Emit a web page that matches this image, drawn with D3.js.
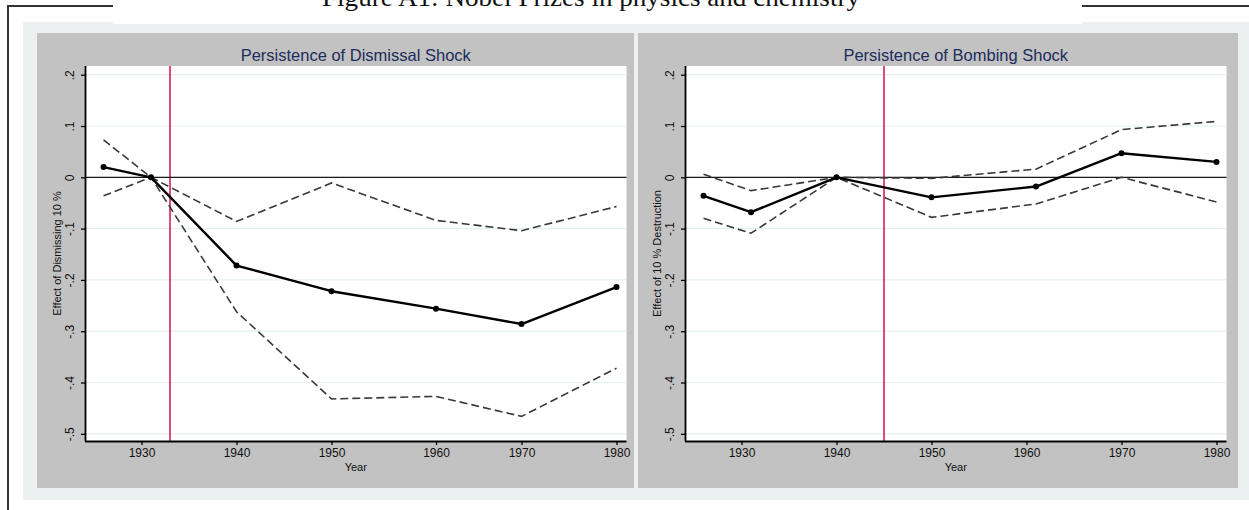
<!DOCTYPE html>
<html>
<head>
<meta charset="utf-8">
<script src="https://cdn.jsdelivr.net/npm/d3@7"></script>
<style>
  html, body { margin: 0; padding: 0; background: #ffffff; }
  svg { display: block; }
  text { font-family: "Liberation Sans", Arial, sans-serif; }
</style>
</head>
<body>
<svg id="chart" width="1249" height="510"></svg>
<script>
// Event-study coefficients by census year
const years = [1926, 1931, 1940, 1950, 1961, 1970, 1980];

const dismissalEstimate = [0.020, 0.000, -0.172, -0.222, -0.256, -0.286, -0.214];
const dismissalUpper    = [0.073, 0.000, -0.086, -0.011, -0.084, -0.104, -0.057];
const dismissalLower    = [-0.036, 0.000, -0.262, -0.432, -0.427, -0.466, -0.372];

const bombingEstimate = [-0.036, -0.068, 0.000, -0.039, -0.018, 0.047, 0.030];
const bombingUpper    = [0.006, -0.026, 0.000, -0.002, 0.016, 0.093, 0.109];
const bombingLower    = [-0.080, -0.109, 0.000, -0.078, -0.052, 0.000, -0.048];

// Axis ticks
const yTickValues = [0.2, 0.1, 0, -0.1, -0.2, -0.3, -0.4, -0.5];
const yTickLabels = [".2", ".1", "0", "-.1", "-.2", "-.3", "-.4", "-.5"];
const dismissalXTicks = [1930, 1940, 1950, 1961, 1970, 1980];
const bombingXTicks   = [1930, 1940, 1950, 1960, 1970, 1980];
const xTickLabels = ["1930", "1940", "1950", "1960", "1970", "1980"];

const figureTitle = "Figure A1: Nobel Prizes in physics and chemistry";

const panels = [
  {
    title: "Persistence of Dismissal Shock",
    yTitle: "Effect of Dismissing 10 %",
    shockYear: 1933,
    estimate: dismissalEstimate, upper: dismissalUpper, lower: dismissalLower,
    xTicks: dismissalXTicks,
    bg: [37, 634], plot: [85, 626.5]
  },
  {
    title: "Persistence of Bombing Shock",
    yTitle: "Effect of 10 % Destruction",
    shockYear: 1945,
    estimate: bombingEstimate, upper: bombingUpper, lower: bombingLower,
    xTicks: bombingXTicks,
    bg: [638, 1238], plot: [685, 1226.5]
  }
];

const svg = d3.select("#chart");

// Outer graph region
svg.append("rect").attr("x", 23).attr("y", 22).attr("width", 1249 - 23).attr("height", 500 - 22)
  .attr("fill", "#edf0f0");

// Frame lines and title box
svg.append("rect").attr("x", 113).attr("y", 0).attr("width", 1082 - 113).attr("height", 24).attr("fill", "#ffffff");
svg.append("line").attr("x1", 7).attr("x2", 113).attr("y1", 6).attr("y2", 6).attr("stroke", "#333").attr("stroke-width", 2);
svg.append("line").attr("x1", 1082).attr("x2", 1249).attr("y1", 6).attr("y2", 6).attr("stroke", "#333").attr("stroke-width", 2);
svg.append("line").attr("x1", 8).attr("x2", 8).attr("y1", 5).attr("y2", 510).attr("stroke", "#333").attr("stroke-width", 2);

svg.append("text")
  .attr("x", 591).attr("y", 6)
  .attr("text-anchor", "middle")
  .attr("textLength", 538).attr("lengthAdjust", "spacingAndGlyphs")
  .style("font-family", "'Liberation Serif', 'DejaVu Serif', serif")
  .style("font-size", "25px")
  .attr("fill", "#111")
  .text(figureTitle);

const plotTop = 66, plotBottom = 441;
const panelTop = 33, panelBottom = 488;

panels.forEach(p => {
  const g = svg.append("g");

  // Panel background
  g.append("rect").attr("x", p.bg[0]).attr("y", panelTop)
    .attr("width", p.bg[1] - p.bg[0]).attr("height", panelBottom - panelTop)
    .attr("fill", "#c2c2c2");

  const x = d3.scaleLinear().domain([1924.05, 1981.05]).range(p.plot);
  const y = d3.scaleLinear().domain([-0.514, 0.217]).range([plotBottom, plotTop]);

  // Plot region
  g.append("rect").attr("x", p.plot[0]).attr("y", plotTop)
    .attr("width", p.plot[1] - p.plot[0]).attr("height", plotBottom - plotTop)
    .attr("fill", "#ffffff");

  // Horizontal grid
  g.selectAll("line.grid").data(yTickValues).enter().append("line")
    .attr("class", "grid")
    .attr("x1", p.plot[0]).attr("x2", p.plot[1])
    .attr("y1", d => y(d)).attr("y2", d => y(d))
    .attr("stroke", "#e6eff1").attr("stroke-width", 1.2);

  // Panel title
  g.append("text")
    .attr("x", (p.plot[0] + p.plot[1]) / 2).attr("y", 60.5)
    .attr("text-anchor", "middle")
    .style("font-size", "16.5px")
    .attr("fill", "#1c2c5c")
    .text(p.title);

  // Shock year marker
  g.append("line")
    .attr("x1", x(p.shockYear)).attr("x2", x(p.shockYear))
    .attr("y1", plotTop).attr("y2", plotBottom)
    .attr("stroke", "#d4234f").attr("stroke-width", 1.6);

  // Zero reference line
  g.append("line")
    .attr("x1", p.plot[0]).attr("x2", p.plot[1])
    .attr("y1", y(0)).attr("y2", y(0))
    .attr("stroke", "#1a1a1a").attr("stroke-width", 1.3);

  const line = d3.line().x(d => x(d[0])).y(d => y(d[1]));

  // Confidence bounds
  [p.upper, p.lower].forEach(vals => {
    g.append("path")
      .datum(years.map((yr, i) => [yr, vals[i]]))
      .attr("d", line)
      .attr("fill", "none")
      .attr("stroke", "#383838").attr("stroke-width", 1.6)
      .attr("stroke-dasharray", "8,4");
  });

  // Point estimates
  const est = years.map((yr, i) => [yr, p.estimate[i]]);
  g.append("path").datum(est).attr("d", line)
    .attr("fill", "none").attr("stroke", "#000").attr("stroke-width", 2.4)
    .attr("stroke-linejoin", "round");
  g.selectAll("circle.pt").data(est).enter().append("circle")
    .attr("class", "pt")
    .attr("cx", d => x(d[0])).attr("cy", d => y(d[1])).attr("r", 3)
    .attr("fill", "#000");

  // Y axis
  const yAxis = d3.axisLeft(y).tickValues(yTickValues)
    .tickFormat((d, i) => yTickLabels[i]).tickSize(4).tickPadding(3);
  const ya = g.append("g").attr("transform", `translate(${p.plot[0]},0)`).call(yAxis);
  ya.select(".domain").attr("d", `M0.5,${plotTop}V${plotBottom}`).attr("stroke", "#000").attr("stroke-width", 1.8);
  ya.selectAll(".tick line").attr("stroke", "#000").attr("stroke-width", 1.3);
  ya.selectAll(".tick text")
    .attr("x", null).attr("dy", null)
    .attr("text-anchor", "middle")
    .attr("transform", "translate(-11,0) rotate(-90)")
    .style("font-size", "12px").attr("fill", "#111");

  // X axis
  const xAxis = d3.axisBottom(x).tickValues(p.xTicks)
    .tickFormat((d, i) => xTickLabels[i]).tickSize(4).tickPadding(3);
  const xa = g.append("g").attr("transform", `translate(0,${plotBottom})`).call(xAxis);
  xa.select(".domain").attr("d", `M${p.plot[0]},0.5H${p.plot[1]}`).attr("stroke", "#000").attr("stroke-width", 1.8);
  xa.selectAll(".tick line").attr("stroke", "#000").attr("stroke-width", 1.3);
  xa.selectAll(".tick text").style("font-size", "12px").attr("fill", "#111");

  // Axis titles
  g.append("text")
    .attr("transform", `translate(${p.plot[0] - 24},${(plotTop + plotBottom) / 2}) rotate(-90)`)
    .attr("text-anchor", "middle")
    .style("font-size", "11px").attr("fill", "#111")
    .text(p.yTitle);
  g.append("text")
    .attr("x", (p.plot[0] + p.plot[1]) / 2).attr("y", 471)
    .attr("text-anchor", "middle")
    .style("font-size", "11px").attr("fill", "#111")
    .text("Year");
});
</script>
</body>
</html>
